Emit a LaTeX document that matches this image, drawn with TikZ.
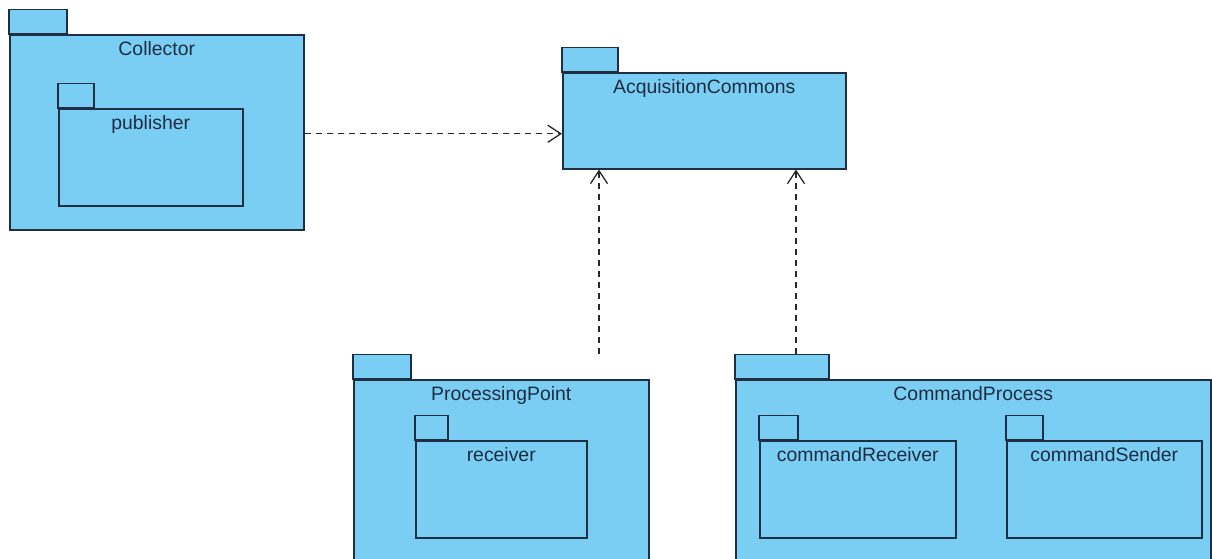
\documentclass[tikz,border=0pt]{standalone}
\usepackage{fontspec}
\setmainfont{Liberation Sans}
\usetikzlibrary{arrows.meta,calc}
\definecolor{pkfill}{RGB}{122,206,244}
\definecolor{pkline}{RGB}{32,46,68}
\definecolor{pktext}{RGB}{30,44,64}
\definecolor{arrline}{RGB}{40,40,40}
\tikzset{
  pkgbody/.style={draw=pkline, fill=pkfill, line width=1.5pt, rectangle, inner sep=0pt, anchor=north west},
  pkgtab/.style={draw=pkline, fill=pkfill, line width=1.5pt},
  pkglabel/.style={anchor=base, inner sep=0pt, text=pktext, font=\fontsize{19.4}{22}\selectfont},
  depend/.style={draw=arrline, line width=1.3pt, dash pattern=on 6pt off 5pt, -{Straight Barb[length=13pt,width=17pt,line width=1.3pt]}}
}
\newcommand\umlpkg[7]{%
  \node[pkgbody, minimum width=#4pt, minimum height=#5pt] (#1) at (#2,#3) {};
  \draw[pkgtab] (#1.north west) rectangle ++(#6,-24.5);
  \node[pkglabel] (#1-label) at ($(#1.north)+(0,21)$) {#7};
}
\begin{document}
\begin{tikzpicture}[x=1pt,y=-1pt]
\clip (0,0) rectangle (1212,558);
\fill[white] (0,0) rectangle (1212,558);
% outer packages
\umlpkg{col}{9}{34}{294}{195}{58}{Collector}
\umlpkg{ac}{562}{72}{283}{96}{56}{AcquisitionCommons}
\umlpkg{pp}{353}{379}{295}{220}{58}{ProcessingPoint}
\umlpkg{cp}{735}{379}{475}{220}{94}{CommandProcess}
% inner packages
\umlpkg{pub}{58}{108}{184}{97}{36}{publisher}
\umlpkg{rec}{415}{440}{171}{97}{33}{receiver}
\umlpkg{crec}{759}{440}{196}{97}{39}{commandReceiver}
\umlpkg{csend}{1006}{440}{195}{97}{37}{commandSender}
% dependency end points
\coordinate (ppTop) at ($(pp.north west)+(246,-25)$);
\coordinate (cpTop) at ($(cp.north west)+(61,-25)$);
% dependencies
\draw[depend] ($(col.east)+(0,1.5)$) -- ($(col.east -| ac.west)+(0,1.5)$);
\draw[depend] (ppTop) -- (ppTop |- ac.south);
\draw[depend] (cpTop) -- (cpTop |- ac.south);
\end{tikzpicture}
\end{document}
